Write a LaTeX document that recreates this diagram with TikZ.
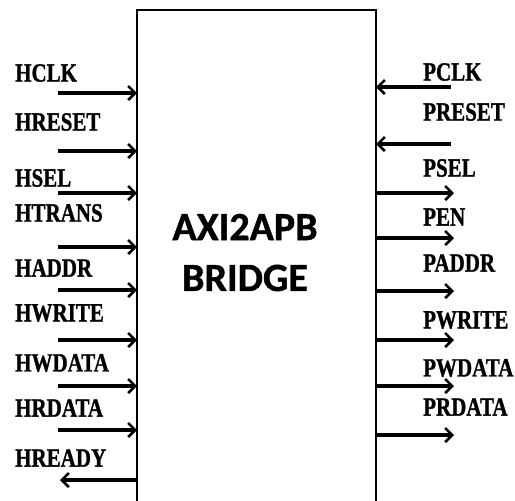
\documentclass[tikz,border=0pt]{standalone}
\usepackage{fontspec}
\setmainfont{Liberation Serif}
\newfontfamily\lblfont{Liberation Serif Bold}[FakeBold=1.2]
\newfontfamily\titlefont{Carlito Bold}[FakeBold=1]
\usetikzlibrary{arrows.meta}
\tikzset{
  sig/.style={line width=3.2pt, -{Straight Barb[length=7pt,width=14pt,line width=2.6pt]}},
  boxline/.style={line width=2.2pt},
  lbl/.style={anchor=west, inner sep=0pt, font=\lblfont\fontsize{21}{21}\selectfont},
  ttl/.style={inner sep=0pt, font=\titlefont\fontsize{40}{40}\selectfont}
}
\newcommand{\tall}[1]{\scalebox{1}[1.25]{#1}}
\begin{document}
\begin{tikzpicture}[x=1pt,y=-1pt]
\useasboundingbox (0,0) rectangle (515,501);
% block (open at bottom)
\coordinate (bl) at (137,503);
\coordinate (tl) at (137,10);
\coordinate (tr) at (376,10);
\coordinate (br) at (376,503);
\draw[boxline] (bl) -- (tl) -- (tr) -- (br);
\node[ttl] (t1) at (245,227) {AXI2APB};
\node[ttl] (t2) at (245,278) {BRIDGE};
% left side
\foreach \n/\y/\ly in {HCLK/93/73, HRESET/151/122, HSEL/193/178, HTRANS/247/213, HADDR/290/268, HWRITE/340/313, HWDATA/386/363, HRDATA/430/408}{
  \node[lbl] (l\n) at (15,\ly) {\tall{\n}};
  \coordinate (s\n) at (58,\y);
  \coordinate (e\n) at (137,\y);
  \draw[sig] (s\n) -- (e\n);
}
\node[lbl] (lHREADY) at (15,458) {\tall{HREADY}};
\coordinate (sHREADY) at (137,480);
\coordinate (eHREADY) at (60,480);
\draw[sig] (sHREADY) -- (eHREADY);
% right side inputs
\foreach \n/\y/\ly in {PCLK/87/72, PRESET/144/112}{
  \node[lbl] (l\n) at (423,\ly) {\tall{\n}};
  \coordinate (s\n) at (451,\y);
  \coordinate (e\n) at (376,\y);
  \draw[sig] (s\n) -- (e\n);
}
% right side outputs
\foreach \n/\y/\ly in {PSEL/193/168, PEN/238/217, PADDR/291/263, PWRITE/340/320, PWDATA/386/368, PRDATA/435/407}{
  \node[lbl] (l\n) at (423,\ly) {\tall{\n}};
  \coordinate (s\n) at (376,\y);
  \coordinate (e\n) at (454,\y);
  \draw[sig] (s\n) -- (e\n);
}
\end{tikzpicture}
\end{document}
